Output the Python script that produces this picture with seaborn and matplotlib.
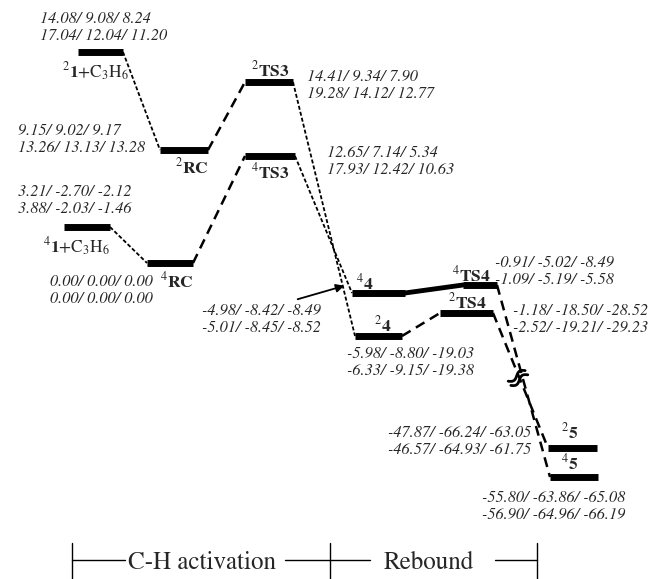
import numpy as np
import pandas as pd
import matplotlib
matplotlib.use('Agg')
import matplotlib.pyplot as plt
import seaborn as sns

sns.set_style('white')
plt.rcParams['font.family'] = ['STIXGeneral', 'Liberation Serif', 'DejaVu Serif']
plt.rcParams['mathtext.fontset'] = 'stix'

# ---- data: schematic levels (drawn height, arbitrary units; 4RC = 0) ----
species = ['2_1', '2_RC', '2_TS3', '4_TS3', '4_1', '4_RC', '4_4', '2_4', '4_TS4', '2_TS4', '2_5', '4_5']
level = [21.1, 11.3, 18.1, 10.7, 3.6, 0.0, -3.0, -7.3, -2.2, -5.0, -18.5, -21.4]
slot_left = [7.8, 16.0, 24.5, 24.5, 6.4, 14.7, 35.2, 35.5, 46.3, 44.0, 54.8, 55.0]
slot_right = [12.3, 20.8, 29.3, 29.5, 11.0, 19.3, 40.5, 40.2, 49.7, 49.3, 59.7, 59.8]

labels = [r'$^{2}\mathbf{1}\mathrm{+C_3H_6}$', r'$^{2}\mathbf{RC}$', r'$^{2}\mathbf{TS3}$', r'$^{4}\mathbf{TS3}$',
          r'$^{4}\mathbf{1}\mathrm{+C_3H_6}$', r'$^{4}\mathbf{RC}$', r'$^{4}\mathbf{4}$', r'$^{2}\mathbf{4}$',
          r'$^{4}\mathbf{TS4}$', r'$^{2}\mathbf{TS4}$', r'$^{2}\mathbf{5}$', r'$^{4}\mathbf{5}$']
label_pos = [(9.5, 19.1), (19.2, 9.6), (27.0, 19.3), (27.0, 9.1), (7.6, 1.6), (17.7, -1.8),
             (36.5, -2.0), (38.3, -6.2), (47.1, -1.2), (46.7, -3.9), (57.0, -16.9), (57.0, -20.0)]

# energies: two rows of three values per species
energy_row1 = ['14.08/ 9.08/ 8.24', '9.15/ 9.02/ 9.17', '14.41/ 9.34/ 7.90', '12.65/ 7.14/ 5.34',
               '3.21/ -2.70/ -2.12', '0.00/ 0.00/ 0.00', '-4.98/ -8.42/ -8.49', '-5.98/ -8.80/ -19.03',
               '-0.91/ -5.02/ -8.49', '-1.18/ -18.50/ -28.52', '-47.87/ -66.24/ -63.05', '-55.80/ -63.86/ -65.08']
energy_row2 = ['17.04/ 12.04/ 11.20', '13.26/ 13.13/ 13.28', '19.28/ 14.12/ 12.77', '17.93/ 12.42/ 10.63',
               '3.88/ -2.03/ -1.46', '0.00/ 0.00/ 0.00', '-5.01/ -8.45/ -8.52', '-6.33/ -9.15/ -19.38',
               '-1.09/ -5.19/ -5.58', '-2.52/ -19.21/ -29.23', '-46.57/ -64.93/ -61.75', '-56.90/ -64.96/ -66.19']
energy_pos = [(4.0, 24.4), (1.8, 13.2), (30.7, 18.6), (32.7, 11.0), (1.8, 7.1), (5.0, -1.9),
              (20.2, -4.8), (34.7, -9.1), (49.5, 0.0), (51.3, -4.8), (38.8, -17.0), (48.2, -23.5)]

# connections between levels
links = [('2_1', '2_RC', 'dot'), ('4_1', '4_RC', 'dot'), ('2_RC', '2_TS3', 'dash'), ('4_RC', '4_TS3', 'dash'),
         ('2_TS3', '2_4', 'dot'), ('4_TS3', '4_4', 'dot'), ('2_4', '2_TS4', 'dash'), ('4_4', '4_TS4', 'solid'),
         ('2_TS4', '2_5', 'dash'), ('4_TS4', '4_5', 'dash')]

df = pd.DataFrame({'species': species, 'level': level, 'left': slot_left, 'right': slot_right})
long = pd.concat([df.assign(x=df.left), df.assign(x=df.right)]).sort_values(['species', 'x'])

fig = plt.figure(figsize=(6.52, 5.79), dpi=100)
ax = fig.add_axes([0, 0, 1, 1])
sns.lineplot(data=long, x='x', y='level', units='species', estimator=None, color='black',
             lw=5, solid_capstyle='butt', ax=ax, legend=False)

styles = {'dot': dict(ls=(0, (2.2, 1.2)), lw=1.3), 'dash': dict(ls=(0, (4, 2.5)), lw=1.8),
          'solid': dict(ls='-', lw=3.5)}
d = df.set_index('species')
for a, b, s in links:
    ax.plot([d.right[a], d.left[b]], [d.level[a], d.level[b]], color='black', **styles[s])

for txt, (x, y) in zip(labels, label_pos):
    ax.text(x, y, txt, ha='center', va='center', fontsize=12.5)

for r1, r2, (x, y) in zip(energy_row1, energy_row2, energy_pos):
    ax.text(x, y, r1, ha='left', va='center', fontsize=11.7, style='italic')
    ax.text(x, y - 1.65, r2, ha='left', va='center', fontsize=11.7, style='italic')

# arrow pointing to 4_4
ax.annotate('', xy=(34.7, -2.2), xytext=(29.5, -3.7),
            arrowprops=dict(arrowstyle='-|>', color='black', lw=1.3, mutation_scale=12))

# break mark (two small waves) on the rebound connectors
ang = np.deg2rad(32)
u = np.array([np.cos(ang), np.sin(ang)])
n = np.array([-np.sin(ang), np.cos(ang)])
t = np.linspace(-1.0, 1.0, 40)
wave = 0.25 * np.sin(np.pi * t)
for off in (-0.25, 0.25):
    px = 51.8 + t * u[0] + (wave + off) * n[0]
    py = -11.5 + t * u[1] + (wave + off) * n[1]
    ax.plot(px, py, color='black', lw=2)

# stage brackets at the bottom
ax.plot([7.2, 12.5], [-29.7, -29.7], color='black', lw=1)
ax.plot([28.5, 37.0], [-29.7, -29.7], color='black', lw=1)
ax.plot([49.5, 53.7], [-29.7, -29.7], color='black', lw=1)
for xv in (7.2, 33.0, 53.7):
    ax.plot([xv, xv], [-28.0, -31.6], color='black', lw=1)
ax.text(20.25, -30.0, 'C-H activation', ha='center', va='center', fontsize=18)
ax.text(42.9, -30.0, 'Rebound', ha='center', va='center', fontsize=18)

ax.set_xlim(0, 65.2)
ax.set_ylim(-31.6, 26.3)
ax.axis('off')
fig.savefig('out.png', dpi=100)
